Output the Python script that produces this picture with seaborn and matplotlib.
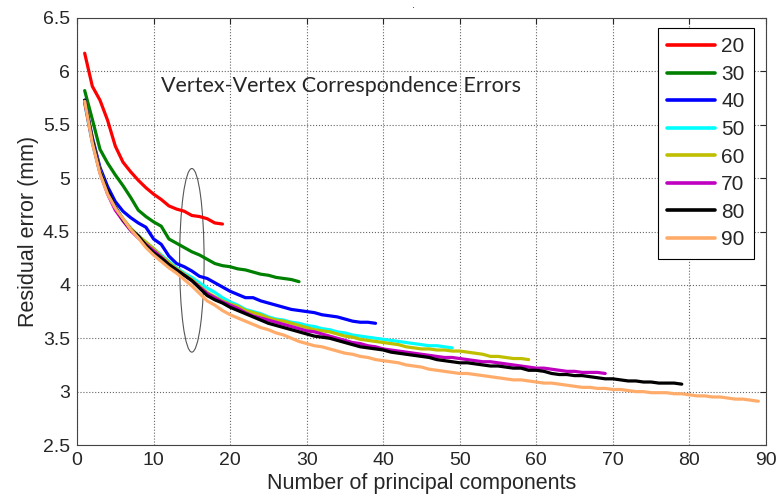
import pandas as pd
import matplotlib.pyplot as plt
import seaborn as sns
from matplotlib.patches import Ellipse

# residual error (mm) vs number of principal components, one curve per training-set size
err_20 = [6.17, 5.86, 5.73, 5.54, 5.30, 5.15, 5.06, 4.98, 4.91, 4.85, 4.80, 4.74, 4.71, 4.69, 4.65,
          4.64, 4.62, 4.58, 4.57]
err_30 = [5.82, 5.55, 5.27, 5.14, 5.03, 4.93, 4.82, 4.70, 4.64, 4.59, 4.55, 4.43, 4.39, 4.35, 4.31,
          4.28, 4.24, 4.20, 4.18, 4.17, 4.15, 4.14, 4.12, 4.10, 4.09, 4.07, 4.06, 4.05, 4.03]
err_40 = [5.73, 5.38, 5.10, 4.92, 4.78, 4.69, 4.63, 4.58, 4.54, 4.43, 4.38, 4.27, 4.20, 4.17, 4.13,
          4.08, 4.06, 4.02, 3.98, 3.94, 3.91, 3.88, 3.88, 3.85, 3.83, 3.81, 3.79, 3.77, 3.76, 3.75,
          3.74, 3.72, 3.71, 3.70, 3.68, 3.66, 3.65, 3.65, 3.64]
err_50 = [5.70, 5.33, 5.05, 4.86, 4.73, 4.62, 4.53, 4.46, 4.40, 4.34, 4.28, 4.22, 4.16, 4.11, 4.07,
          4.02, 3.97, 3.93, 3.88, 3.84, 3.81, 3.77, 3.75, 3.73, 3.70, 3.68, 3.67, 3.65, 3.64, 3.62,
          3.61, 3.59, 3.58, 3.56, 3.55, 3.53, 3.52, 3.51, 3.50, 3.49, 3.48, 3.47, 3.46, 3.45, 3.44,
          3.43, 3.43, 3.42, 3.41]
err_60 = [5.72, 5.36, 5.07, 4.87, 4.72, 4.62, 4.53, 4.46, 4.40, 4.34, 4.27, 4.21, 4.15, 4.10, 4.05,
          3.99, 3.93, 3.89, 3.85, 3.82, 3.80, 3.76, 3.74, 3.72, 3.69, 3.67, 3.66, 3.64, 3.62, 3.60,
          3.58, 3.57, 3.56, 3.54, 3.52, 3.51, 3.49, 3.48, 3.47, 3.46, 3.45, 3.44, 3.42, 3.41, 3.40,
          3.40, 3.39, 3.39, 3.38, 3.38, 3.37, 3.36, 3.35, 3.33, 3.33, 3.32, 3.31, 3.31, 3.30]
err_70 = [5.71, 5.34, 5.05, 4.85, 4.70, 4.60, 4.51, 4.44, 4.38, 4.32, 4.26, 4.19, 4.14, 4.09, 4.04,
          3.98, 3.92, 3.88, 3.84, 3.81, 3.78, 3.74, 3.71, 3.69, 3.67, 3.65, 3.63, 3.61, 3.59, 3.57,
          3.56, 3.54, 3.52, 3.50, 3.48, 3.46, 3.45, 3.43, 3.42, 3.40, 3.39, 3.38, 3.37, 3.36, 3.35,
          3.34, 3.33, 3.32, 3.32, 3.31, 3.30, 3.29, 3.28, 3.28, 3.27, 3.26, 3.25, 3.24, 3.23, 3.22,
          3.22, 3.21, 3.20, 3.19, 3.19, 3.18, 3.18, 3.18, 3.17]
err_80 = [5.73, 5.36, 5.06, 4.88, 4.73, 4.61, 4.52, 4.46, 4.37, 4.30, 4.25, 4.19, 4.14, 4.09, 4.04,
          3.97, 3.90, 3.86, 3.83, 3.79, 3.76, 3.73, 3.70, 3.67, 3.64, 3.62, 3.60, 3.58, 3.56, 3.54,
          3.52, 3.51, 3.50, 3.48, 3.46, 3.44, 3.42, 3.41, 3.40, 3.39, 3.37, 3.36, 3.35, 3.34, 3.33,
          3.32, 3.30, 3.29, 3.28, 3.27, 3.27, 3.26, 3.25, 3.24, 3.24, 3.23, 3.22, 3.22, 3.20, 3.20,
          3.19, 3.17, 3.16, 3.16, 3.15, 3.15, 3.14, 3.13, 3.12, 3.12, 3.11, 3.10, 3.10, 3.09, 3.09,
          3.08, 3.08, 3.08, 3.07]
err_90 = [5.72, 5.33, 5.04, 4.85, 4.72, 4.62, 4.52, 4.44, 4.35, 4.28, 4.22, 4.16, 4.11, 4.05, 3.99,
          3.92, 3.85, 3.81, 3.76, 3.72, 3.69, 3.66, 3.63, 3.60, 3.58, 3.55, 3.53, 3.50, 3.47, 3.45,
          3.43, 3.42, 3.40, 3.38, 3.36, 3.35, 3.33, 3.32, 3.30, 3.29, 3.28, 3.27, 3.25, 3.24, 3.23,
          3.21, 3.20, 3.19, 3.18, 3.17, 3.17, 3.16, 3.15, 3.14, 3.13, 3.12, 3.11, 3.11, 3.10, 3.09,
          3.08, 3.08, 3.07, 3.06, 3.05, 3.04, 3.04, 3.03, 3.03, 3.02, 3.02, 3.01, 3.00, 3.00, 2.99,
          2.99, 2.99, 2.98, 2.98, 2.97, 2.96, 2.96, 2.95, 2.95, 2.94, 2.93, 2.93, 2.92, 2.91]

sizes = ["20", "30", "40", "50", "60", "70", "80", "90"]
series = [err_20, err_30, err_40, err_50, err_60, err_70, err_80, err_90]
colors = ["#ff0000", "#008000", "#0000ff", "#00ffff", "#bfbf00", "#bf00bf", "#000000", "#ffac6b"]

rows = []
for name, vals in zip(sizes, series):
    for i, v in enumerate(vals):
        rows.append({"n": name, "pc": i + 1, "err": v})
df = pd.DataFrame(rows)

sns.set_style("white")
plt.rcParams["font.family"] = ["Liberation Sans", "DejaVu Sans"]

fig, ax = plt.subplots(figsize=(7.82, 5.0), dpi=100)
fig.subplots_adjust(left=0.0985, right=0.9795, top=0.964, bottom=0.11)

sns.lineplot(data=df, x="pc", y="err", hue="n", hue_order=sizes,
             palette=dict(zip(sizes, colors)), linewidth=2.3, ax=ax)

# the ellipse marking the region around 15 components
ax.add_patch(Ellipse((15, 4.23), 3.2, 1.72, fill=False, ec="#555555", lw=0.8))
ax.text(11, 5.86, "Vertex-Vertex Correspondence Errors", fontsize=15.5,
        family=["Lato", "DejaVu Sans"], va="center")
fig.text(0.529, 0.985, ".", fontsize=8, ha="center")

ax.set_xlim(0, 90)
ax.set_ylim(2.5, 6.5)
ax.set_xticks(range(0, 91, 10))
ax.set_yticks([2.5, 3, 3.5, 4, 4.5, 5, 5.5, 6, 6.5])
ax.set_yticklabels(["2.5", "3", "3.5", "4", "4.5", "5", "5.5", "6", "6.5"])
ax.tick_params(direction="in", top=True, right=True, labelsize=14, length=4, width=0.8, pad=5)
ax.grid(True, linestyle=":", color="#666666", linewidth=0.8)
for s in ax.spines.values():
    s.set_color("#444444")
    s.set_linewidth(0.8)

ax.set_xlabel("Number of principal components", fontsize=15.5, labelpad=3)
ax.set_ylabel("Residual error (mm)", fontsize=15.5, labelpad=3)

leg = ax.legend(title=None, loc="upper right", bbox_to_anchor=(0.9826, 0.9766), borderaxespad=0,
                fontsize=15, handlelength=2.3, handletextpad=0.3, labelspacing=0.41,
                borderpad=0.45, fancybox=False, framealpha=1)
leg.get_frame().set_edgecolor("#000000")
leg.get_frame().set_linewidth(0.8)
for line in leg.get_lines():
    line.set_linewidth(2.6)

plt.savefig("out.png", dpi=100)
